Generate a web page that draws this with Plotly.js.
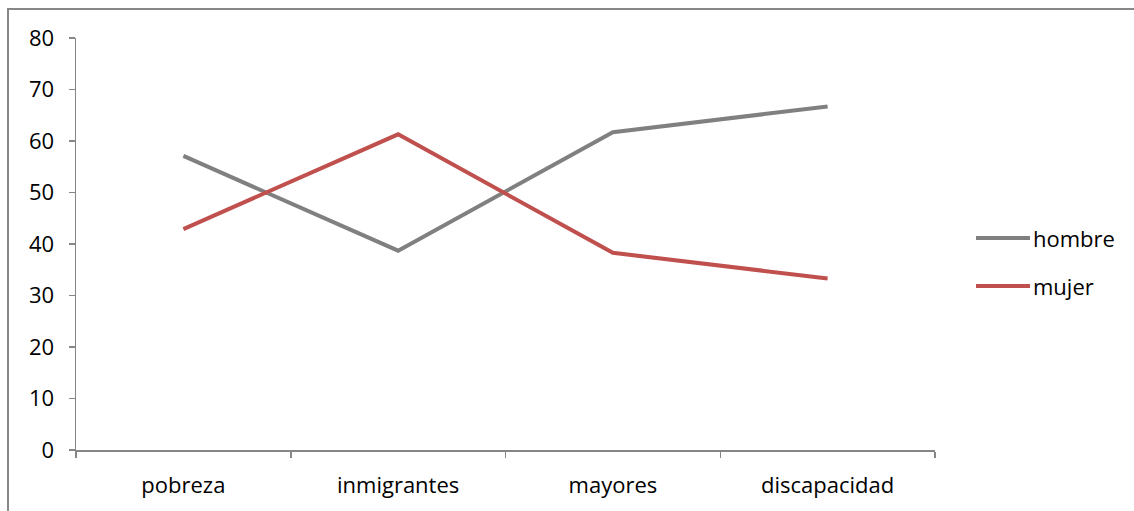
<!DOCTYPE html>
<html><head><meta charset="utf-8">
<script src="https://cdn.plot.ly/plotly-3.0.1.min.js"></script>
<style>html,body{margin:0;padding:0;background:#fff;}</style>
</head><body><div id="chart" style="width:1134px;height:511px;"></div>
<script>
const categories = ["pobreza", "inmigrantes", "mayores", "discapacidad"];
const hombre = [57.1, 38.7, 61.7, 66.7];
const mujer = [42.9, 61.3, 38.3, 33.3];
const seriesNames = ["hombre", "mujer"];
const seriesColors = ["#808080", "#C0504D"];
const yTicks = [0, 10, 20, 30, 40, 50, 60, 70, 80];

const W = 1134, H = 511, L = 76, R = 199, T = 38, B = 61;
const pw = W - L - R, ph = H - T - B;
const px = v => (v - L) / pw;
const py = v => (H - B - v) / ph;
const FONT = "Open Sans";

const traces = [hombre, mujer].map((vals, i) => ({
  x: categories, y: vals, type: "scatter", mode: "lines", name: seriesNames[i],
  line: {color: seriesColors[i], width: 4}, showlegend: false, hoverinfo: "skip"
}));

const shapes = [{
  type: "rect", xref: "paper", yref: "paper", layer: "below",
  x0: px(8), x1: px(1200), y0: py(560), y1: py(9),
  line: {color: "#878787", width: 2}
}];
const annotations = [];
const legY = [238, 286];
seriesNames.forEach((n, i) => {
  shapes.push({type: "line", xref: "paper", yref: "paper",
    x0: px(976), x1: px(1030), y0: py(legY[i]), y1: py(legY[i]),
    line: {color: seriesColors[i], width: 4}});
  annotations.push({xref: "paper", yref: "paper", x: px(1031), y: py(legY[i]),
    xanchor: "left", yanchor: "middle", showarrow: false, text: n,
    font: {family: FONT, size: 22, color: "#000"}});
});

const layout = {
  width: W, height: H, margin: {l: L, r: R, t: T, b: B},
  paper_bgcolor: "#fff", plot_bgcolor: "#fff", showlegend: false,
  font: {family: FONT, size: 22, color: "#000"},
  xaxis: {type: "category", range: [-0.5, 3.5], tickson: "boundaries",
    ticks: "outside", ticklen: 6, tickwidth: 1.5, tickcolor: "#868686",
    showline: true, linecolor: "#868686", linewidth: 1.5, showgrid: false,
    zeroline: false, ticklabelstandoff: 15, fixedrange: true},
  yaxis: {range: [0, 80], tickvals: yTicks, ticks: "outside", ticklen: 6,
    tickwidth: 1.5, tickcolor: "#868686", showline: true, linecolor: "#868686",
    linewidth: 1.5, showgrid: false, zeroline: false, ticklabelstandoff: 10,
    fixedrange: true},
  shapes: shapes, annotations: annotations
};
Plotly.newPlot("chart", traces, layout, {displayModeBar: false, staticPlot: true});
</script></body></html>
